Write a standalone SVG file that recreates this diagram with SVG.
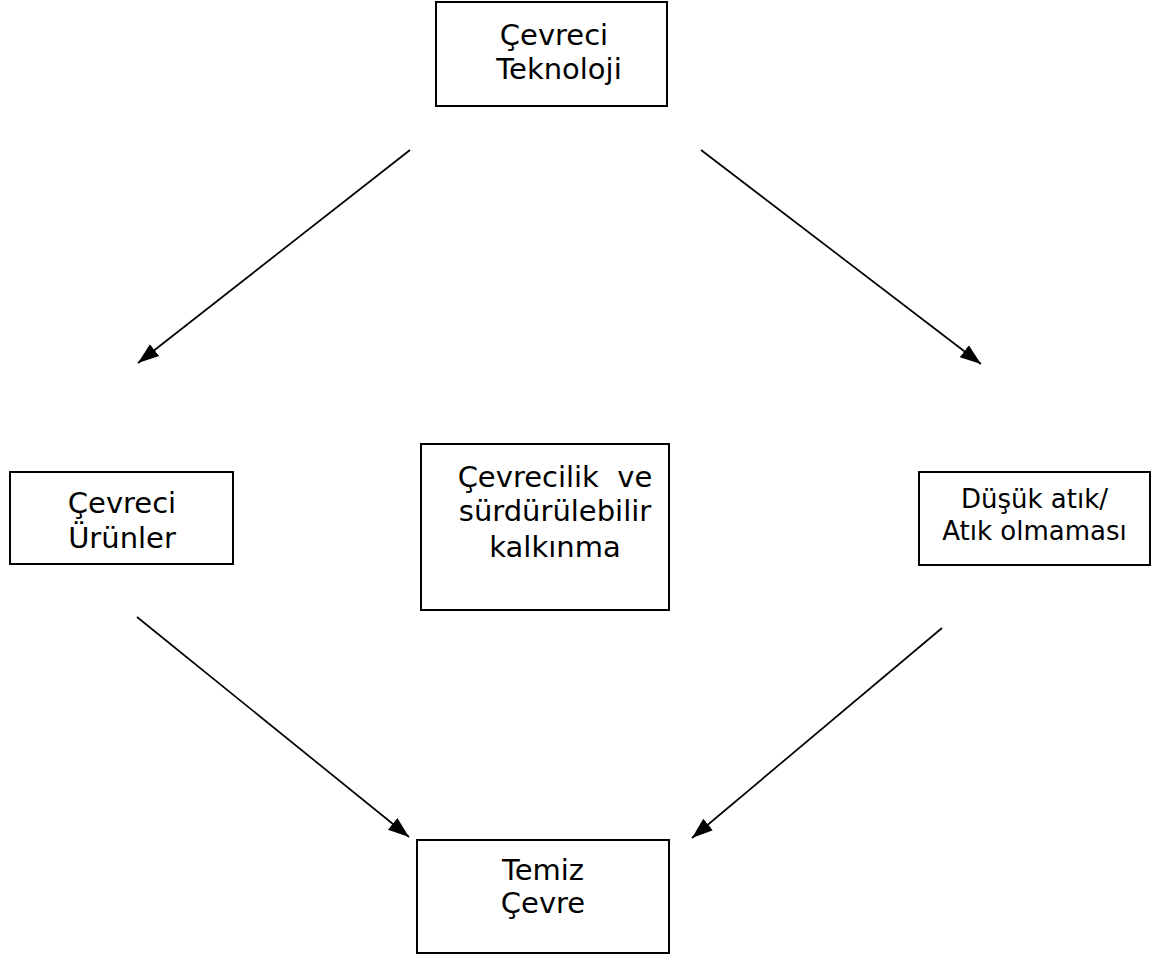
<svg xmlns="http://www.w3.org/2000/svg" width="1165" height="959" viewBox="0 0 1165 959">
<style>
.box{fill:#fff;stroke:#000;stroke-width:2}
.t{font-family:"DejaVu Sans",Verdana,sans-serif;font-size:29px;fill:#000;text-anchor:middle}
.s{font-size:26px}
.c{stroke:#000;stroke-width:1.7;fill:none;marker-end:url(#ah)}
</style>
<defs>
<marker id="ah" markerUnits="userSpaceOnUse" markerWidth="22" markerHeight="18" viewBox="0 0 22 18" refX="21" refY="9" orient="auto">
<path d="M0,1.5 L21,9 L0,16.5 Z" fill="#000"/>
</marker>
</defs>
<rect width="1165" height="959" fill="#fff"/>
<g id="connectors">
<line class="c" x1="410" y1="150" x2="138" y2="363"/>
<line class="c" x1="701" y1="150" x2="981" y2="364"/>
<line class="c" x1="137" y1="617" x2="409" y2="837"/>
<line class="c" x1="942" y1="628" x2="692" y2="838"/>
</g>
<g id="n1">
<rect class="box" x="436" y="2" width="231" height="104"/>
<text class="t" x="554" y="45">Çevreci</text>
<text class="t" x="559" y="79">Teknoloji</text>
</g>
<g id="n2">
<rect class="box" x="10" y="472" width="223" height="92"/>
<text class="t" x="122" y="513">Çevreci</text>
<text class="t" x="122" y="548">Ürünler</text>
</g>
<g id="n3">
<rect class="box" x="421" y="444" width="248" height="166"/>
<text class="t" x="555" y="487" xml:space="preserve">Çevrecilik  ve</text>
<text class="t" x="555" y="521">sürdürülebilir</text>
<text class="t" x="555" y="557">kalkınma</text>
</g>
<g id="n4">
<rect class="box" x="919" y="472" width="231" height="93"/>
<text class="t s" x="1034.5" y="508">Düşük atık/</text>
<text class="t s" x="1034.5" y="540">Atık olmaması</text>
</g>
<g id="n5">
<rect class="box" x="417" y="840" width="252" height="113"/>
<text class="t" x="543" y="880">Temiz</text>
<text class="t" x="543" y="913">Çevre</text>
</g>
</svg>
